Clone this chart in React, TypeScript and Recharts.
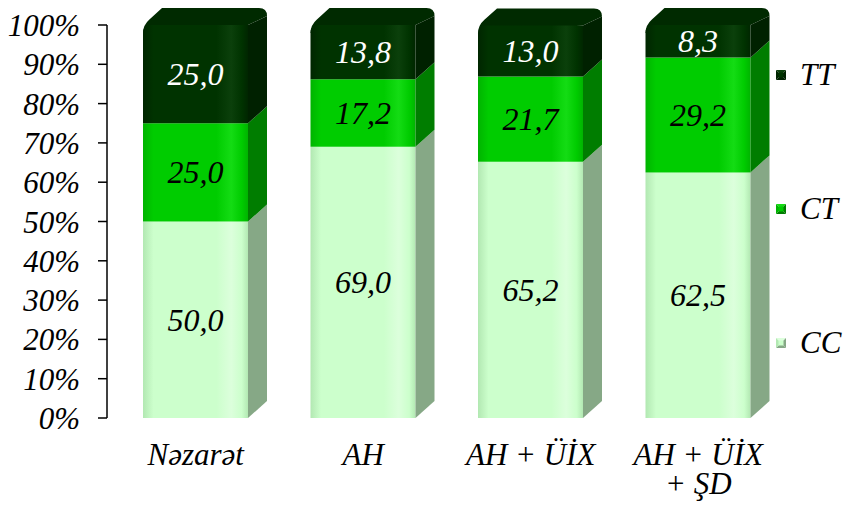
import { Bar, BarChart, LabelList, Legend, XAxis, YAxis } from "recharts";

// categories (x axis), "\n" marks a line break in the label
const groups = ["Nəzarət", "AH", "AH + ÜİX", "AH + ÜİX\n+ ŞD"];

// genotype shares, %
const ccValues = [50.0, 69.0, 65.2, 62.5];
const ctValues = [25.0, 17.2, 21.7, 29.2];
const ttValues = [25.0, 13.8, 13.0, 8.3];

const yTicks = [0, 10, 20, 30, 40, 50, 60, 70, 80, 90, 100];

const data = groups.map((name, i) => ({
  name,
  CC: ccValues[i],
  CT: ctValues[i],
  TT: ttValues[i],
}));

const FONT = "Liberation Serif";
const DX = 19;
const DY = 17;
const R = 8;

const palette: Record<string, { edge: string; base: string; light: string; side: string; top: string; label: string }> = {
  CC: { edge: "#b2e8b2", base: "#ccffcc", light: "#dcffdc", side: "#86a886", top: "#b8e6b8", label: "#000" },
  CT: { edge: "#00b400", base: "#00cc00", light: "#14dc14", side: "#007d00", top: "#00b000", label: "#000" },
  TT: { edge: "#002600", base: "#003300", light: "#0b400b", side: "#002100", top: "#002a00", label: "#fff" },
};

function Bar3D(props: any) {
  const { x, y, width, height, kind } = props;
  const c = palette[kind];
  const r = x + width;
  const b = y + height;
  const isTop = kind === "TT";
  const front = isTop
    ? `M${x},${b} L${x},${y + R} Q${x},${y} ${x + R},${y} L${r},${y} L${r},${b} Z`
    : `M${x},${b} L${x},${y} L${r},${y} L${r},${b} Z`;
  return (
    <g>
      {isTop && (
        <path
          d={`M${x},${y + R} Q${x},${y} ${x + R * 0.8},${y - R * 0.7} L${x + DX},${y - DY} L${r + DX - R},${y - DY} Q${r + DX},${y - DY} ${r + DX},${y - DY + R} L${r},${y} Z`}
          fill={c.top}
        />
      )}
      <path d={front} fill={`url(#front-${kind})`} />
      <polygon
        points={`${r},${b} ${r + DX},${b - DY} ${r + DX},${y - DY + (isTop ? R : 0)} ${r},${y}`}
        fill={c.side}
      />
    </g>
  );
}

const fmt = (v: number) => v.toFixed(1).replace(".", ",");

function makeLabel(kind: string) {
  return (props: any) => {
    const { x, y, width, height, value } = props;
    return (
      <text
        x={x + width / 2}
        y={y + height / 2}
        dy="0.34em"
        textAnchor="middle"
        fill={palette[kind].label}
        fontSize={32}
        fontStyle="italic"
        fontFamily={FONT}
      >
        {fmt(value)}
      </text>
    );
  };
}

function GroupTick(props: any) {
  const { x, y, payload } = props;
  const lines = String(payload.value).split("\n");
  return (
    <text
      x={x}
      y={y}
      textAnchor="middle"
      fill="#000"
      fontSize={31}
      fontStyle="italic"
      fontFamily={FONT}
    >
      {lines.map((line, i) => (
        <tspan key={i} x={x} dy={i === 0 ? 39 : 29}>
          {line}
        </tspan>
      ))}
    </text>
  );
}

function LegendSwatch({ kind }: { kind: string }) {
  const c = palette[kind];
  return (
    <svg width={10} height={10} style={{ display: "block" }}>
      <polygon points="0,0 10,0 5,5" fill={c.light} />
      <polygon points="10,0 10,10 5,5" fill={c.side} />
      <polygon points="0,10 10,10 5,5" fill={c.side} />
      <polygon points="0,0 0,10 5,5" fill={c.edge} />
      <rect x={2.5} y={2.5} width={5} height={5} fill={c.base} />
    </svg>
  );
}

function StackLegend(props: any) {
  const items = [...(props.payload || [])].reverse();
  return (
    <div>
      {items.map((it: any) => (
        <div
          key={it.dataKey}
          style={{ display: "flex", alignItems: "center", height: 134 }}
        >
          <LegendSwatch kind={it.dataKey} />
          <span
            style={{
              marginLeft: 14,
              fontSize: 31,
              fontStyle: "italic",
              fontFamily: FONT,
              color: "#000",
            }}
          >
            {it.value}
          </span>
        </div>
      ))}
    </div>
  );
}

export default function App() {
  return (
    <div style={{ width: 848, height: 510, background: "#fff" }}>
      <style>{`body{margin:0}`}</style>
      <BarChart
        width={848}
        height={510}
        data={data}
        margin={{ top: 25, right: 66, bottom: 32, left: 0 }}
      >
        <defs>
          {Object.keys(palette).map((k) => (
            <linearGradient key={k} id={`front-${k}`} x1="0" y1="0" x2="1" y2="0">
              <stop offset="0%" stopColor={palette[k].edge} />
              <stop offset="10%" stopColor={palette[k].base} />
              <stop offset="70%" stopColor={palette[k].base} />
              <stop offset="84%" stopColor={palette[k].light} />
              <stop offset="94%" stopColor={palette[k].base} />
              <stop offset="100%" stopColor={palette[k].edge} />
            </linearGradient>
          ))}
        </defs>
        <XAxis
          dataKey="name"
          interval={0}
          axisLine={false}
          tickLine={false}
          padding={{ left: 5, right: 0 }}
          height={60}
          tick={<GroupTick />}
        />
        <YAxis
          width={107}
          domain={[0, 100]}
          ticks={yTicks}
          interval={0}
          tickFormatter={(v: number) => `${v}%`}
          axisLine={{ stroke: "#000", strokeWidth: 1.5 }}
          tickLine={{ stroke: "#000", strokeWidth: 1.5 }}
          tickSize={9}
          tickMargin={18}
          tick={{ fill: "#000", fontSize: 31, fontStyle: "italic", fontFamily: FONT }}
        />
        <Legend
          layout="vertical"
          align="center"
          verticalAlign="middle"
          wrapperStyle={{ left: 776, top: 8, width: 72 }}
          content={<StackLegend />}
        />
        {(["CC", "CT", "TT"] as const).map((k) => (
          <Bar
            key={k}
            dataKey={k}
            stackId="g"
            barSize={105}
            isAnimationActive={false}
            shape={(p: any) => <Bar3D {...p} kind={k} />}
          >
            <LabelList dataKey={k} content={makeLabel(k)} />
          </Bar>
        ))}
      </BarChart>
    </div>
  );
}
